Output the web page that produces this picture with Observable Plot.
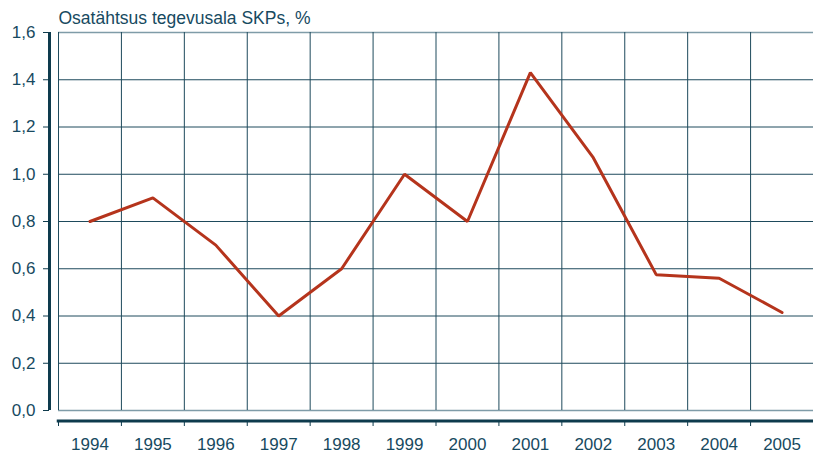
<!DOCTYPE html>
<html>
<head>
<meta charset="utf-8">
<script src="https://cdn.jsdelivr.net/npm/d3@7"></script>
<script src="https://cdn.jsdelivr.net/npm/@observablehq/plot@0.6"></script>
<style>
  body { margin: 0; background: #fff; }
  svg { display: block; }
</style>
</head>
<body>
<div id="chart"></div>
<script>
const title = "Osatähtsus tegevusala SKPs, %";
const years = [1994, 1995, 1996, 1997, 1998, 1999, 2000, 2001, 2002, 2003, 2004, 2005];
const values = [0.8, 0.9, 0.7, 0.4, 0.6, 1.0, 0.8, 1.43, 1.07, 0.575, 0.56, 0.415];
const yTicks = [0, 0.2, 0.4, 0.6, 0.8, 1.0, 1.2, 1.4, 1.6];

const data = years.map((year, i) => ({year, value: values[i]}));
const edges = years.map(y => y - 0.5);          // band edges (left edges)
const x0 = years[0] - 0.5, x1 = years[years.length - 1] + 0.5;
const textColor = "#174a5f";
const gridColor = "#1e4a5c";
const fmt = d => d.toFixed(1).replace(".", ",");

const chart = Plot.plot({
  width: 813,
  height: 453,
  marginLeft: 58,
  marginRight: 0,
  marginTop: 32,
  marginBottom: 43,
  style: {fontFamily: "Liberation Sans, Arial, sans-serif", fontSize: "17px", color: textColor, background: "#fff"},
  x: {type: "linear", domain: [x0, x1]},
  y: {domain: [0, 1.6]},
  marks: [
    // horizontal grid
    Plot.ruleY(yTicks.filter(d => d > 0 && d < 1.6), {x1: x0, x2: x1, stroke: gridColor, strokeWidth: 1}),
    Plot.ruleY([0, 1.6], {x1: x0, x2: x1, stroke: "#7f9ca8", strokeWidth: 1.5}),
    // vertical grid
    Plot.ruleX(edges, {y1: 0, y2: 1.6, stroke: gridColor, strokeWidth: 1}),
    // y axis line
    Plot.ruleX([x0], {y1: 0, y2: 1.6, dx: -9, stroke: "#0e3b4d", strokeWidth: 3}),
    Plot.axisY(yTicks, {anchor: "left", dx: -9, tickSize: 6, tickPadding: 8, tickFormat: fmt, stroke: "#0e3b4d", fill: textColor, fontSize: 17, label: null}),
    // x axis line
    Plot.ruleY([0], {x1: x0 - 0.02, x2: x1, dy: 10.5, stroke: "#0e3b4d", strokeWidth: 3}),
    Plot.axisX(edges, {anchor: "bottom", dy: 11, tickSize: 5, tickFormat: () => "", stroke: "#0e3b4d", label: null}),
    Plot.axisX(years, {anchor: "bottom", tickSize: 0, dy: 18, tickFormat: d => String(d), fill: textColor, fontSize: 17, label: null}),
    // data line
    Plot.line(data, {x: "year", y: "value", stroke: "#b5341c", strokeWidth: 3, strokeLinejoin: "miter"}),
    // title
    Plot.text([title], {frameAnchor: "top-left", dy: -21, text: d => d, textAnchor: "start", fill: textColor, fontSize: 17.5})
  ]
});
document.getElementById("chart").appendChild(chart);
</script>
</body>
</html>
